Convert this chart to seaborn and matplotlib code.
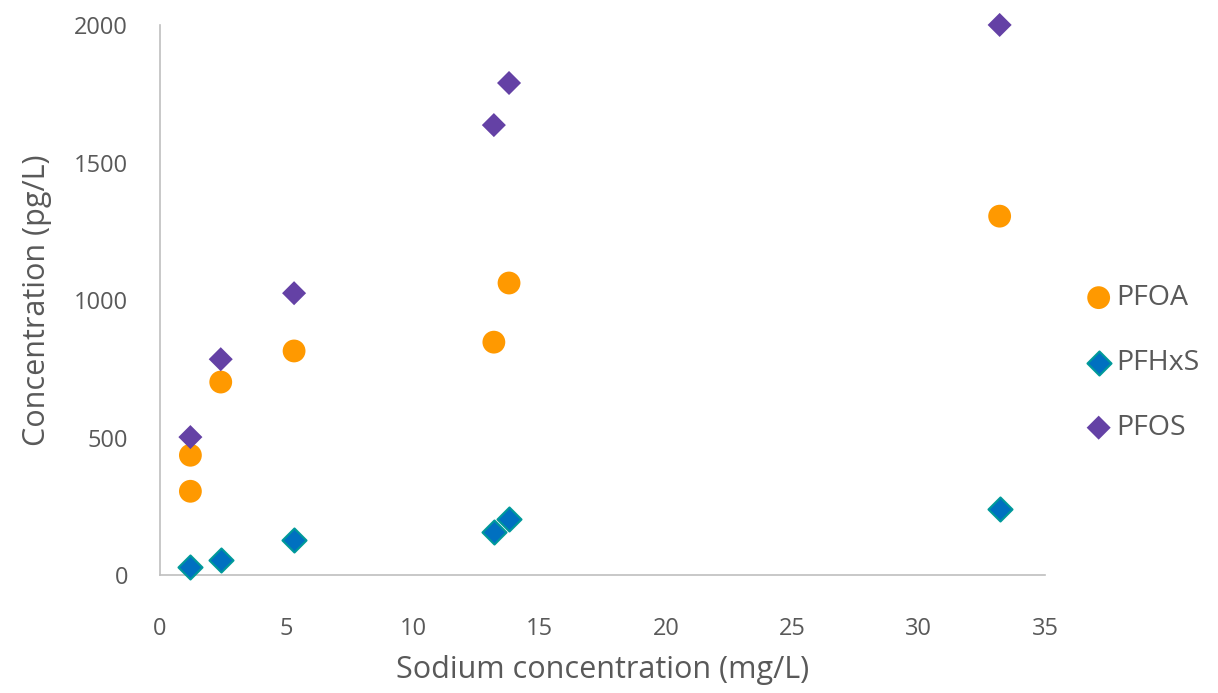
import matplotlib
matplotlib.use("Agg")
import matplotlib.pyplot as plt
import seaborn as sns

sns.set_theme(style="white")
plt.rcParams['font.family'] = ['Open Sans', 'DejaVu Sans']

# sodium concentration (mg/L) per sample
sodium = [1.2, 1.2, 2.4, 5.3, 13.2, 13.8, 33.2]
sodium_hxs = [1.2, 2.4, 5.3, 13.2, 13.8, 33.2]
sodium_fos = [1.2, 2.4, 5.3, 13.2, 13.8, 33.2]

pfoa = [305, 436, 702, 815, 847, 1062, 1305]
pfhxs = [29, 55, 127, 156, 204, 240]
pfos = [502, 785, 1025, 1636, 1789, 2000]

grey = "#595959"

fig = plt.figure(figsize=(12.18, 6.93), dpi=100)
ax = fig.add_axes([0.1314, 0.170, 0.7267, 0.794])

sns.scatterplot(x=sodium, y=pfoa, ax=ax, color="#FF9900", marker="o", s=270,
                edgecolor="none", label="PFOA", zorder=3, clip_on=False)
sns.scatterplot(x=sodium_hxs, y=pfhxs, ax=ax, color="#0070C0", marker="D", s=150,
                edgecolor="#00999A", linewidth=1.5, label="PFHxS", zorder=3, clip_on=False)
sns.scatterplot(x=sodium_fos, y=pfos, ax=ax, color="#6441A5", marker="D", s=150,
                edgecolor="none", label="PFOS", zorder=3, clip_on=False)

ax.set_xlim(0, 35)
ax.set_ylim(0, 2000)
ax.set_xticks(range(0, 36, 5))
ax.set_yticks(range(0, 2001, 500))

for side in ["top", "right"]:
    ax.spines[side].set_visible(False)
for side in ["left", "bottom"]:
    ax.spines[side].set_color("#BFBFBF")
    ax.spines[side].set_linewidth(1.2)

ax.tick_params(axis="both", length=0, labelsize=17, labelcolor=grey)
ax.tick_params(axis="y", pad=23)
ax.tick_params(axis="x", pad=30)

ax.set_xlabel("Sodium concentration (mg/L)", fontsize=22, color=grey, labelpad=10)
ax.set_ylabel("Concentration (pg/L)", fontsize=22, color=grey, labelpad=16)

ax.legend(loc="center left", bbox_to_anchor=(0.888, 0.476),
          bbox_transform=fig.transFigure, frameon=False,
          fontsize=20.5, labelcolor=grey, handletextpad=0.0, labelspacing=1.3,
          borderaxespad=0, borderpad=0, handlelength=1.2)

fig.savefig("out.png", dpi=100)
